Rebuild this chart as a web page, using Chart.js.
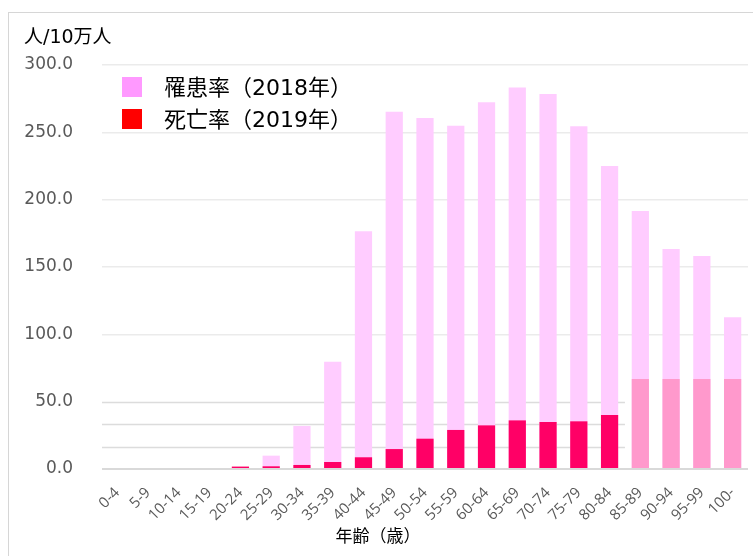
<!DOCTYPE html>
<html><head><meta charset="utf-8">
<script src="https://cdn.jsdelivr.net/npm/chart.js@4/dist/chart.umd.min.js"></script>
<style>
html,body{margin:0;padding:0;background:#fff;overflow:hidden;}
#wrap{position:relative;width:753px;height:556px;}
#frame{position:absolute;left:8px;top:12px;width:760px;height:560px;border:1px solid #d6d6d6;box-sizing:border-box;}
canvas{position:absolute;left:0;top:0;}
</style></head>
<body><div id="wrap"><div id="frame"></div><canvas id="c" width="753" height="556"></canvas></div>
<script>
const ageGroups = ['0-4','5-9','10-14','15-19','20-24','25-29','30-34','35-39','40-44','45-49','50-54','55-59','60-64','65-69','70-74','75-79','80-84','85-89','90-94','95-99','100-'];
const incidence2018 = [0.0, 0.0, 0.0, 0.0, 1.0, 9.9, 32.0, 79.7, 176.5, 265.2, 260.7, 254.8, 272.4, 283.2, 278.5, 254.6, 225.0, 191.5, 163.3, 158.1, 112.6];
const mortality2019 = [0.0, 0.0, 0.0, 0.0, 1.8, 2.0, 3.0, 5.2, 8.7, 14.8, 22.5, 29.0, 32.4, 36.1, 34.9, 35.4, 40.1, 66.8, 66.8, 66.8, 66.8];
const legendLabels = ['罹患率（2018年）', '死亡率（2019年）'];
const yTickValues = [0, 50, 100, 150, 200, 250, 300];
const yMinorGrid = [50 / 3, 100 / 3, 50];
const yTitle = '人/10万人';
const xTitle = '年齢（歳）';

const incColor = '#FFCCFF';
const mortColor = '#FF0066';
const mortColorOld = '#FF99CC';
const legendColors = ['#FF99FF', '#FF0000'];
const tickFont = '"DejaVu Sans", sans-serif';
const xTickFont = '"Open Sans", sans-serif';
const mixFont = '"DejaVu Sans", "Noto Sans CJK JP", sans-serif';
const jpFont = '"Noto Sans CJK JP", sans-serif';

const decorPlugin = {
  id: 'decor',
  beforeDatasetsDraw(chart) {
    const {ctx, chartArea, scales} = chart;
    const x = scales.x, y = scales.y;
    const xEnd = (x.getPixelForTick(16) + x.getPixelForTick(17)) / 2;
    ctx.save();
    ctx.strokeStyle = '#dcdcdc';
    ctx.lineWidth = 1.5;
    yMinorGrid.forEach(v => {
      const py = Math.round(y.getPixelForValue(v)) + 0.5;
      ctx.beginPath();
      ctx.moveTo(chartArea.left, py);
      ctx.lineTo(xEnd, py);
      ctx.stroke();
    });
    ctx.restore();
  },
  afterDraw(chart) {
    const {ctx} = chart;
    ctx.save();
    ctx.fillStyle = '#000';
    ctx.font = '19px ' + mixFont;
    ctx.textBaseline = 'alphabetic';
    ctx.textAlign = 'left';
    ctx.fillText(yTitle, 24, 43);
    ctx.font = '17px ' + jpFont;
    ctx.textAlign = 'center';
    ctx.fillText(xTitle, 378, 542);
    ctx.textAlign = 'left';
    ctx.font = '22px ' + mixFont;
    legendLabels.forEach((t, i) => {
      const top = 77 + i * 32;
      ctx.fillStyle = legendColors[i];
      ctx.fillRect(122, top, 20, 20);
      ctx.fillStyle = '#000';
      ctx.fillText(t, 164, top + 18);
    });
    ctx.restore();
  }
};

new Chart(document.getElementById('c'), {
  type: 'bar',
  data: {
    labels: ageGroups,
    datasets: [
      {
        label: legendLabels[0],
        data: incidence2018,
        backgroundColor: incColor,
        borderWidth: 0,
        barPercentage: 0.56,
        categoryPercentage: 1.0,
        order: 2
      },
      {
        label: legendLabels[1],
        data: mortality2019,
        backgroundColor: mortality2019.map((v, i) => i >= 17 ? mortColorOld : mortColor),
        borderWidth: 0,
        barPercentage: 0.56,
        categoryPercentage: 1.0,
        order: 1
      }
    ]
  },
  options: {
    responsive: false,
    animation: false,
    layout: {padding: {top: 65, right: 5, left: 0, bottom: 0}},
    plugins: {legend: {display: false}, tooltip: {enabled: false}, title: {display: false}},
    scales: {
      x: {
        stacked: true,
        grid: {display: false, drawTicks: false},
        border: {display: false},
        ticks: {
          minRotation: 45, maxRotation: 45, autoSkip: false,
          color: '#595959', padding: 15,
          font: {family: xTickFont, size: 15}
        },
        afterFit(s) { s.height = 556 - 469; s.paddingLeft = 0; s.paddingRight = 0; }
      },
      y: {
        stacked: false,
        min: 0, max: 300,
        afterBuildTicks(s) { s.ticks = yTickValues.map(v => ({value: v})); },
        afterFit(s) { s.width = 102; s.paddingTop = 0; s.paddingBottom = 0; },
        grid: {
          drawTicks: false,
          color: c => (c.tick && c.tick.value === 0) ? '#d9d9d9' : (c.tick && c.tick.value <= 50 ? 'rgba(0,0,0,0)' : '#ebebeb'),
          lineWidth: c => (c.tick && c.tick.value === 0) ? 2 : 1.5
        },
        border: {display: false},
        ticks: {
          color: '#595959', padding: 29,
          font: {family: tickFont, size: 17},
          callback: v => Number(v).toFixed(1)
        }
      }
    }
  },
  plugins: [decorPlugin]
});
</script>
</body></html>
